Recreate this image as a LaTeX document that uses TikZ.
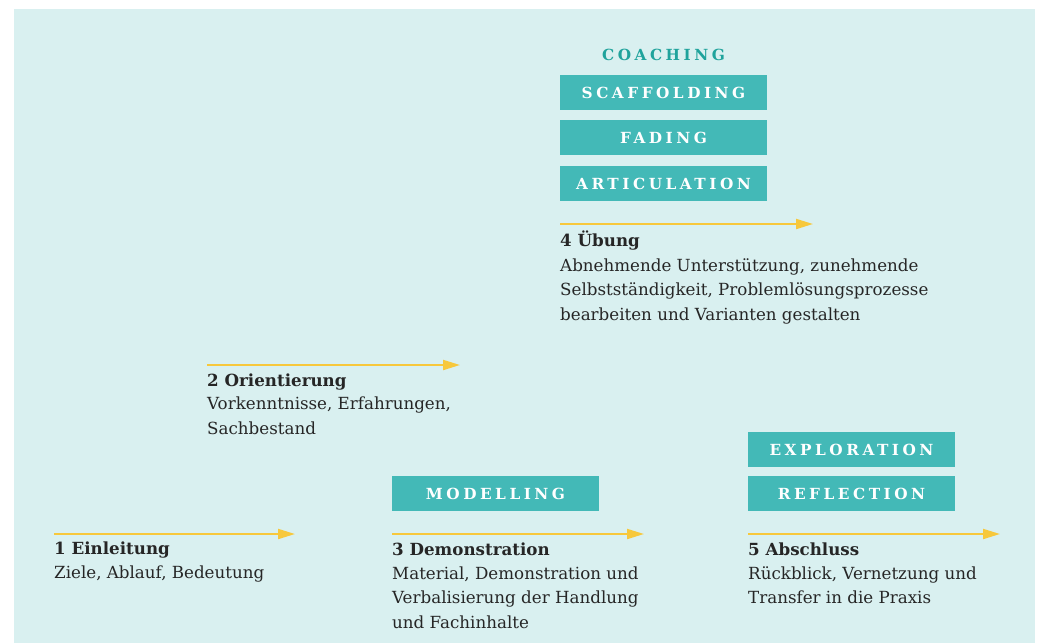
\documentclass[tikz,border=0pt]{standalone}
\usepackage{fontspec}
\setmainfont{DejaVu Serif}
\newfontfamily\spacedfont[LetterSpace=23]{DejaVu Serif}
\usepackage{tikz}
\usetikzlibrary{arrows.meta}
\definecolor{panelbg}{HTML}{D9F0F0}
\definecolor{boxteal}{HTML}{43B9B7}
\definecolor{headteal}{HTML}{1FA39C}
\definecolor{arrowyellow}{HTML}{F7C83C}
\definecolor{textdark}{HTML}{262626}
\newcommand{\bodyfont}{\fontsize{16.7}{24.5}\selectfont}
\newcommand{\boxfont}{\spacedfont\bfseries\fontsize{15.3}{18}\selectfont}
\tikzset{phasearrow/.style = {draw=arrowyellow, line width=2pt, -{Triangle[length=17pt,width=10pt]}}}
\tikzset{phasebox/.style = {fill=boxteal, text=white, font=\boxfont, minimum width=207pt, minimum height=35pt, inner sep=0pt}}
\tikzset{stagetitle/.style = {anchor=base west, inner sep=0pt, text=textdark, font=\bodyfont\bfseries}}
\tikzset{stagetext/.style = {anchor=base west, inner sep=0pt, text=textdark, font=\bodyfont, align=left}}

\begin{document}
\begin{tikzpicture}[x=1pt,y=-1pt]
                    \fill[white] (0,0) rectangle (1040,643);
                    \fill[panelbg] (14,9) rectangle (1035,643);

                    \node[font=\boxfont, text=headteal, inner sep=0pt] (coaching) at (663.5,55) {COACHING};
                    \node[phasebox] (scaffolding) at (663.5,92.5) {SCAFFOLDING};
                    \node[phasebox] (fading) at (663.5,137.5) {FADING};
                    \node[phasebox] (articulation) at (663.5,183.5) {ARTICULATION};
                    \node[phasebox] (modelling) at (495.5,493.5) {MODELLING};
                    \node[phasebox] (exploration) at (851.5,449.5) {EXPLORATION};
                    \node[phasebox] (reflection) at (851.5,493.5) {REFLECTION};

                    \coordinate (e1) at (54,534);
                    \coordinate (e2) at (207,365);
                    \coordinate (e3) at (392,534);
                    \coordinate (e4) at (560,224);
                    \coordinate (e5) at (748,534);
                    \coordinate (f1) at (295,534);
                    \coordinate (f2) at (460,365);
                    \coordinate (f3) at (644,534);
                    \coordinate (f4) at (813,224);
                    \coordinate (f5) at (1000,534);

                    \draw[phasearrow] (e1) -- (f1);
                    \draw[phasearrow] (e2) -- (f2);
                    \draw[phasearrow] (e3) -- (f3);
                    \draw[phasearrow] (e4) -- (f4);
                    \draw[phasearrow] (e5) -- (f5);

                    \node[stagetitle] (t1) at (54,554) {1 Einleitung};
                    \node[stagetitle] (t2) at (207,386) {2 Orientierung};
                    \node[stagetitle] (t3) at (392,555) {3 Demonstration};
                    \node[stagetitle] (t4) at (560,246) {4 Übung};
                    \node[stagetitle] (t5) at (748,555) {5 Abschluss};

                    \node[stagetext] (d1) at (54,578) {Ziele, Ablauf, Bedeutung};
                    \node[stagetext] (d2) at (207,434) {Vorkenntnisse, Erfahrungen,\\Sachbestand};
                    \node[stagetext] (d3) at (392,628) {Material, Demonstration und\\Verbalisierung der Handlung\\und Fachinhalte};
                    \node[stagetext] (d4) at (560,320) {Abnehmende Unterstützung, zunehmende\\Selbstständigkeit, Problemlösungsprozesse\\bearbeiten und Varianten gestalten};
                    \node[stagetext] (d5) at (748,603.5) {Rückblick, Vernetzung und\\Transfer in die Praxis};
                \end{tikzpicture}
\end{document}
